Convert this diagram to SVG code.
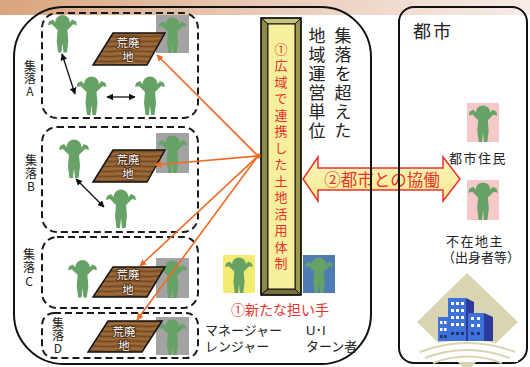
<svg xmlns="http://www.w3.org/2000/svg" width="530" height="367" viewBox="0 0 530 367">
  <defs>
    <linearGradient id="banner" x1="0" y1="0" x2="1" y2="0">
      <stop offset="0" stop-color="#d9a47d"/>
      <stop offset="0.5" stop-color="#e9cbb7"/>
      <stop offset="1" stop-color="#f7ece6"/>
    </linearGradient>
    <linearGradient id="arrowFill" x1="0" y1="0" x2="0" y2="1">
      <stop offset="0" stop-color="#fbf6c0"/>
      <stop offset="1" stop-color="#f3e98c"/>
    </linearGradient>
    <pattern id="wood" width="40" height="5" patternUnits="userSpaceOnUse">
      <rect width="40" height="5" fill="#8e5c2e"/>
      <path d="M0 1 Q10 0.4 20 1.2 T40 1" stroke="#63401f" stroke-width="0.7" fill="none"/>
      <path d="M0 3.5 Q10 3 20 3.9 T40 3.4" stroke="#ad7a45" stroke-width="0.8" fill="none"/>
    </pattern>
    <symbol id="person" viewBox="0 0 32 40">
      <circle cx="16" cy="9" r="7.5"/>
      <path d="M11 17 L5 11 L1 12 L2 8 L6 6 L11 12 L21 12 L26 6 L30 8 L31 12 L27 11 L21 17 L22 28 L20.5 40 L17 40 L16 30 L15 40 L11.5 40 L10 28 Z"/>
    </symbol>
    <marker id="blk" viewBox="0 0 10 10" refX="9" refY="5" markerWidth="7" markerHeight="7" markerUnits="userSpaceOnUse" orient="auto-start-reverse">
      <path d="M0 0 L10 5 L0 10 Z" fill="#111"/>
    </marker>
    <marker id="org" viewBox="0 0 10 10" refX="9" refY="5" markerWidth="7" markerHeight="7" markerUnits="userSpaceOnUse" orient="auto">
      <path d="M0 0 L10 5 L0 10 Z" fill="#f06a24"/>
    </marker>
  </defs>
  <style>
    .fig { fill: #66a266; }
    .gray { fill: #a3a3a3; }
    .frame { fill: none; stroke: #111; stroke-width: 2; }
    .dash { fill: none; stroke: #1a1a1a; stroke-width: 2; stroke-dasharray: 7 4; }
    .land { fill: url(#wood); stroke: #111; stroke-width: 1.5; }
    .landtxt { font-family: "Liberation Sans", "Noto Sans CJK JP", sans-serif; font-size: 11.5px; fill: #fff; stroke: #4a2a10; stroke-width: 1.6px; paint-order: stroke; text-anchor: middle; }
    .vert { writing-mode: vertical-rl; text-orientation: upright; }
    .lbl { font-family: "Noto Sans CJK JP", sans-serif; font-size: 12px; fill: #222; }
    .jp { font-family: "Noto Sans CJK JP", sans-serif; fill: #222; }
    .jp2 { font-family: "Liberation Sans", "Noto Sans CJK JP", sans-serif; fill: #222; font-size: 13px; }
    .red { font-family: "Noto Sans CJK JP", sans-serif; fill: #e8322d; }
    .blkline { stroke: #111; stroke-width: 1.3; fill: none; marker-start: url(#blk); marker-end: url(#blk); }
    .orgline { stroke: #f06a24; stroke-width: 1.6; fill: none; marker-end: url(#org); }
  </style>

  <rect width="530" height="367" fill="#fff"/>
  <rect width="530" height="15" fill="url(#banner)"/>

  <!-- cooperation arrow (drawn beneath the region frames) -->
  <g id="cooperation">
    <path d="M303 179 L318 157 L318 168 L443 168 L443 157 L460 179 L443 201 L443 190 L318 190 L318 201 Z" fill="url(#arrowFill)" stroke="#e8322d" stroke-width="1.5"/>
    <text class="red" x="382" y="186" font-size="16.5" text-anchor="middle">②都市との協働</text>
  </g>

  <!-- region frames -->
  <g id="region">
    <rect class="frame" x="14" y="7" width="357" height="357" rx="50" ry="50"/>
    <text class="jp vert" x="343" y="27" font-size="17" letter-spacing="2">集落を超えた</text>
    <text class="jp vert" x="317" y="27" font-size="17" letter-spacing="2">地域運営単位</text>
  </g>

  <g id="city">
    <rect class="frame" x="399" y="7" width="128" height="356" rx="15" ry="15"/>
    <text class="jp" x="413" y="38" font-size="18" letter-spacing="2">都市</text>
    <rect x="467" y="103" width="32" height="39" fill="#f6c9c9"/>
    <use href="#person" class="fig" x="467" y="104" width="32" height="38"/>
    <text class="jp" x="478" y="163" font-size="13" text-anchor="middle" letter-spacing="1.5">都市住民</text>
    <rect x="467" y="180" width="32" height="40" fill="#f6c9c9"/>
    <use href="#person" class="fig" x="467" y="181" width="32" height="39"/>
    <text class="jp2" x="475" y="246" text-anchor="middle" letter-spacing="1.5">不在地主</text>
    <text class="jp2" x="481" y="262" text-anchor="middle">（出身者等）</text>
    <!-- building emblem -->
    <polygon points="417,322 467,273 518,322 467,371" fill="#d9d5b2"/>
    <path d="M417 350 Q467 330 518 350 L518 362 L417 362 Z" fill="#fff"/>
    <path d="M420 352 Q467 334 515 352 M425 358 Q467 342 510 358 M433 363 Q467 350 502 363" stroke="#d9d5b2" stroke-width="2" fill="none"/>
    <polygon points="466,298 474,302 474,341 466,341" fill="#2c3a9c"/>
    <rect x="448" y="298" width="18" height="43" fill="#3d73d8"/>
    <rect x="438" y="317" width="10" height="24" fill="#3d73d8"/>
    <polygon points="484,313 493,317 493,341 484,341" fill="#2c3a9c"/>
    <rect x="468" y="313" width="16" height="28" fill="#3d73d8"/>
    <g fill="#fff">
      <rect x="451" y="302" width="3" height="3"/><rect x="456" y="302" width="3" height="3"/><rect x="461" y="302" width="3" height="3"/>
      <rect x="451" y="309" width="3" height="3"/><rect x="456" y="309" width="3" height="3"/><rect x="461" y="309" width="3" height="3"/>
      <rect x="451" y="316" width="3" height="3"/><rect x="456" y="316" width="3" height="3"/><rect x="461" y="316" width="3" height="3"/>
      <rect x="451" y="323" width="3" height="3"/><rect x="456" y="323" width="3" height="3"/><rect x="461" y="323" width="3" height="3"/>
      <rect x="440" y="321" width="2.5" height="3"/><rect x="444" y="321" width="2.5" height="3"/>
      <rect x="440" y="328" width="2.5" height="3"/><rect x="444" y="328" width="2.5" height="3"/>
      <rect x="471" y="317" width="3" height="3"/><rect x="477" y="317" width="3" height="3"/>
      <rect x="471" y="324" width="3" height="3"/><rect x="477" y="324" width="3" height="3"/>
    </g>
    <g fill="#1f2f7a">
      <rect x="451" y="332" width="3" height="3"/><rect x="456" y="332" width="3" height="3"/><rect x="461" y="332" width="3" height="3"/>
      <rect x="440" y="335" width="2.5" height="3"/><rect x="444" y="335" width="2.5" height="3"/>
      <rect x="471" y="332" width="3" height="3"/><rect x="477" y="332" width="3" height="3"/>
    </g>
  </g>

  <!-- settlement A -->
  <g id="settlement-a">
    <rect class="dash" x="42" y="13" width="156" height="105" rx="15"/>
    <text class="lbl vert" x="30" y="60" letter-spacing="0.5">集落A</text>
    <use href="#person" class="fig" x="47" y="13" width="31" height="40"/>
    <use href="#person" class="fig" x="75" y="75" width="33" height="40"/>
    <use href="#person" class="fig" x="133" y="75" width="34" height="40"/>
    <rect class="gray" x="156" y="15" width="33" height="38"/>
    <use href="#person" class="fig" x="157" y="16" width="31" height="37"/>
    <polygon class="land" points="113,33 165,33 147,65 93,65"/>
    <text class="landtxt" x="128" y="46.5">荒廃</text>
    <text class="landtxt" x="128" y="61">地</text>
  </g>

  <!-- settlement B -->
  <g id="settlement-b">
    <rect class="dash" x="42" y="127" width="156" height="105" rx="15"/>
    <text class="lbl vert" x="31" y="154" letter-spacing="1">集落B</text>
    <use href="#person" class="fig" x="58" y="138" width="32" height="40"/>
    <use href="#person" class="fig" x="105" y="188" width="32" height="40"/>
    <rect class="gray" x="156" y="133" width="33" height="40"/>
    <use href="#person" class="fig" x="157" y="134" width="31" height="39"/>
    <polygon class="land" points="113,150 165,150 147,182 93,182"/>
    <text class="landtxt" x="128" y="163.5">荒廃</text>
    <text class="landtxt" x="128" y="178">地</text>
  </g>

  <!-- settlement C -->
  <g id="settlement-c">
    <rect class="dash" x="42" y="237" width="156" height="71" rx="15"/>
    <text class="lbl vert" x="29" y="248" letter-spacing="1.5">集落C</text>
    <use href="#person" class="fig" x="67" y="258" width="31" height="40"/>
    <rect class="gray" x="156" y="258" width="33" height="40"/>
    <use href="#person" class="fig" x="157" y="259" width="31" height="39"/>
    <polygon class="land" points="113,267 165,267 147,297 93,297"/>
    <text class="landtxt" x="128" y="279">荒廃</text>
    <text class="landtxt" x="128" y="294">地</text>
  </g>

  <!-- settlement D -->
  <g id="settlement-d">
    <rect class="dash" x="42" y="313" width="156" height="45" rx="12"/>
    <text class="lbl vert" x="58" y="317" letter-spacing="0.5">集落D</text>
    <rect class="gray" x="156" y="317" width="33" height="38"/>
    <use href="#person" class="fig" x="157" y="318" width="31" height="37"/>
    <polygon class="land" points="108,321 162,321 142,352 88,352"/>
    <text class="landtxt" x="124" y="335.5">荒廃</text>
    <text class="landtxt" x="124" y="350">地</text>
  </g>

  <!-- land-use system bar -->
  <g id="system-bar">
    <polygon points="261,18 301,18 295,24 268,24" fill="#c9c27a" stroke="#111" stroke-width="1"/>
    <polygon points="261,18 268,24 268,289 261,295" fill="#8c8846" stroke="#111" stroke-width="1"/>
    <polygon points="301,18 295,24 295,289 301,295" fill="#9c9850" stroke="#111" stroke-width="1"/>
    <polygon points="261,295 268,289 295,289 301,295" fill="#75713a" stroke="#111" stroke-width="1"/>
    <rect x="268" y="24" width="27" height="265" fill="#f6f09e" stroke="#111" stroke-width="1"/>
    <rect x="261" y="18" width="40" height="277" fill="none" stroke="#111" stroke-width="1.5"/>
    <text class="red vert" x="281" y="42.5" font-size="13" letter-spacing="3.5">①広域で連携した土地活用体制</text>
  </g>

  <!-- new actors -->
  <g id="new-actors">
    <rect x="223" y="255" width="32" height="38" fill="#f3ea72"/>
    <use href="#person" class="fig" x="223" y="256" width="32" height="37"/>
    <rect x="303" y="255" width="32" height="38" fill="#4f7bb3"/>
    <use href="#person" class="fig" x="303" y="256" width="32" height="37"/>
    <text class="red" x="280" y="315" font-size="14" text-anchor="middle">①新たな担い手</text>
    <text class="jp2" x="205" y="335">マネージャー</text>
    <text class="jp2" x="205" y="351">レンジャー</text>
    <text class="jp2" x="306" y="335">U･I</text>
    <text class="jp2" x="306" y="351">ターン者</text>
  </g>

  <!-- connectors -->
  <g id="connectors">
    <line class="blkline" x1="62" y1="54" x2="75" y2="94"/>
    <line class="blkline" x1="107" y1="97" x2="135" y2="97"/>
    <line class="blkline" x1="76" y1="179" x2="104" y2="207"/>
    <line class="orgline" x1="258" y1="156" x2="157" y2="55"/>
    <line class="orgline" x1="258" y1="156" x2="155" y2="165"/>
    <line class="orgline" x1="258" y1="156" x2="140" y2="266"/>
    <line class="orgline" x1="258" y1="156" x2="137" y2="320"/>
    <circle cx="258" cy="156" r="2.5" fill="#f06a24"/>
  </g>
</svg>
